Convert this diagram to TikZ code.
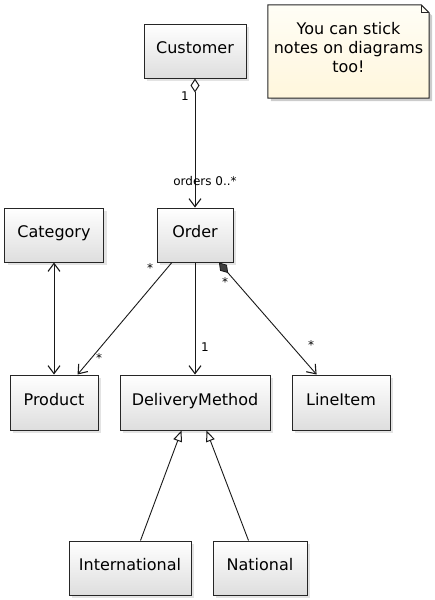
\documentclass[tikz,border=0pt]{standalone}
\usepackage{fontspec}
\setmainfont{DejaVu Sans}
\usetikzlibrary{arrows.meta,shadows}
\definecolor{notetop}{HTML}{FFFEF6}
\definecolor{notebot}{HTML}{FFF6DC}
\begin{document}
\begin{tikzpicture}[x=1pt,y=-1pt,
  box/.style={draw=black!85,line width=1pt,top color=white,bottom color=black!13,
    drop shadow={shadow xshift=3pt,shadow yshift=-3pt,opacity=0.22},
    minimum height=54pt,inner sep=0pt,text height=11pt,text depth=6pt,
    font=\fontsize{16}{19}\selectfont},
  lbl/.style={font=\fontsize{12}{14}\selectfont,inner sep=1pt},
  link/.style={draw=black!90,line width=0.9pt},
  barb/.tip={Straight Barb[length=8pt,width=12pt,line width=1.1pt]},
  nav/.style={-barb}]
\useasboundingbox (0,0) rectangle (434,600);

\node[box,minimum width=102pt] (customer) at (195,51) {Customer};
\node[minimum width=161pt,minimum height=93pt,inner sep=0pt] (note) at (348.5,51.5) {};
\fill[black,opacity=0.2] ([xshift=3pt,yshift=-3pt]note.north west) -- ([xshift=-5pt,yshift=-3pt]note.north east)
  -- ([xshift=3pt,yshift=-11pt]note.north east) -- ([xshift=3pt,yshift=-3pt]note.south east)
  -- ([xshift=3pt,yshift=-3pt]note.south west) -- cycle;
\draw[line width=1pt,draw=black!85,top color=notetop,bottom color=notebot]
  (note.north west) -- ([xshift=-8pt]note.north east) -- ([yshift=-8pt]note.north east)
  -- (note.south east) -- (note.south west) -- cycle;
\draw[line width=0.8pt,draw=black!85] ([xshift=-8pt]note.north east) -- ([xshift=-8pt,yshift=-8pt]note.north east)
  -- ([yshift=-8pt]note.north east);
\node[align=center,font=\fontsize{16}{19}\selectfont] (notetext) at (348.5,48) {You can stick\\notes on diagrams\\too!};

\node[box,minimum width=99pt] (category) at (54,235) {Category};
\node[box,minimum width=76pt] (order) at (195,235) {Order};
\node[box,minimum width=88pt,minimum height=55pt] (product) at (54,402.5) {Product};
\node[box,minimum width=150pt,minimum height=55pt] (delivery) at (195,402.5) {DeliveryMethod};
\node[box,minimum width=98pt,minimum height=55pt] (lineitem) at (341,402.5) {LineItem};
\node[box,minimum width=122pt] (international) at (130,568) {International};
\node[box,minimum width=94pt] (national) at (260,568) {National};

\draw[link,{Diamond[open,length=14pt,width=9pt,line width=1pt]}-barb] (customer) -- (order);
\draw[link,barb-barb] (category) -- (product);
\draw[link,nav] (order) -- (product);
\draw[link,nav] (order) -- (delivery);
\draw[link,{Diamond[fill=black!75,length=14pt,width=9pt,line width=0.8pt]}-barb] (order) -- (lineitem);
\draw[link,-{Triangle[open,length=11pt,width=9pt,line width=1pt]}] ([xshift=72pt]international.north west) -- ([xshift=62pt]delivery.south west);
\draw[link,-{Triangle[open,length=11pt,width=9pt,line width=1pt]}] ([xshift=36pt]national.north west) -- ([xshift=87pt]delivery.south west);

\node[lbl] (l1) at (185,96) {1};
\node[lbl] (l2) at (205,181) {orders 0..*};
\node[lbl] (l3) at (150,268) {*};
\node[lbl] (l4) at (99,358) {*};
\node[lbl] (l5) at (205,347) {1};
\node[lbl] (l6) at (225,282) {*};
\node[lbl] (l7) at (311,345) {*};
\end{tikzpicture}
\end{document}
